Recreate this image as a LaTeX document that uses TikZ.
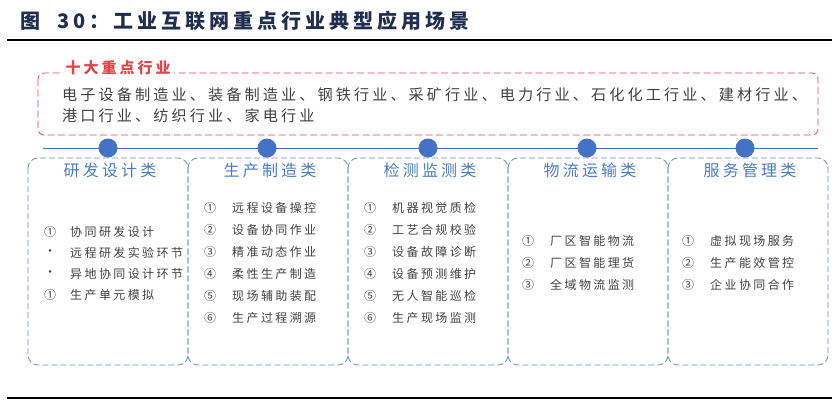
\documentclass[tikz,border=0pt]{standalone}
\usepackage{fontspec}
\setmainfont{Noto Sans CJK SC}
\newfontfamily\spaced[LetterSpace=20]{Noto Sans CJK SC}
\usepackage{xcolor}
\usetikzlibrary{positioning}
\definecolor{navy}{HTML}{1F2D4F}
\definecolor{hdblue}{HTML}{4A7CC4}
\definecolor{dotblue}{HTML}{4472C4}
\definecolor{redline}{HTML}{E0454A}
\tikzset{
    cat-box/.style = {draw=dotblue!80, dash pattern=on 6pt off 3pt, thick, rounded corners=10pt},
    cat-title/.style = {text=hdblue, font=\spaced\fontsize{16}{16}\selectfont, anchor=center},
    item/.style = {text=black!75, font=\spaced\fontsize{12}{12}\selectfont, anchor=west, inner sep=0pt},
    hub/.style = {circle, fill=dotblue, inner sep=0pt, minimum size=19pt},
}
\begin{document}
\begin{tikzpicture}[x=1pt,y=-1pt]
\useasboundingbox (0,0) rectangle (840,408);
% title and rules
\node[anchor=west, text=navy, font=\spaced\bfseries\fontsize{20}{20}\selectfont, inner sep=0pt] (title) at (20,21) {图\ \ 30：工业互联网重点行业典型应用场景};
\draw[line width=1.6pt] (7,40) -- (832,40);
\draw[line width=1.6pt] (7,398) -- (832,398);
% key industries
\draw[redline, dash pattern=on 7pt off 3.5pt, thick, rounded corners=6pt] (38,73) rectangle (818,135);
\node[fill=white, text=redline, font=\spaced\bfseries\fontsize{15}{15}\selectfont, anchor=west] (keytitle) at (62,68) {十大重点行业};
\node[anchor=north west, text=black!75, font=\spaced\fontsize{15.2}{21}\selectfont, align=left, inner sep=0pt] (keylist) at (62,87)
    {电子设备制造业、装备制造业、钢铁行业、采矿行业、电力行业、石化化工行业、建材行业、\\港口行业、纺织行业、家电行业};
% timeline
\draw[dotblue, thick] (43,148) -- (818,148);
\foreach \i/\x/\name in {0/108/研发设计类, 1/267/生产制造类, 2/428/检测监测类, 3/587/物流运输类, 4/745/服务管理类}{
    \pgfmathsetmacro{\bx}{28+160*\i}
    \draw[cat-box] (\bx,158) rectangle (\bx+160,365);
    \node[hub] (hub\i) at (\x,148) {};
    \node[cat-title] (cat\i) at (\bx+82,170) {\name};
}
% items
\foreach \n/\t [count=\k from 0] in {①/协同研发设计, •/远程研发实验环节, •/异地协同设计环节, ①/生产单元模拟}{
    \node[item] at (44,232+21*\k) {\n};
    \node[item] at (70,232+21*\k) {\t};
}
\foreach \n/\t [count=\k from 0] in {①/远程设备操控, ②/设备协同作业, ③/精准动态作业, ④/柔性生产制造, ⑤/现场辅助装配, ⑥/生产过程溯源}{
    \node[item] at (204,208+22*\k) {\n};
    \node[item] at (232,208+22*\k) {\t};
}
\foreach \n/\t [count=\k from 0] in {①/机器视觉质检, ②/工艺合规校验, ③/设备故障诊断, ④/设备预测维护, ⑤/无人智能巡检, ⑥/生产现场监测}{
    \node[item] at (364,208+22*\k) {\n};
    \node[item] at (392,208+22*\k) {\t};
}
\foreach \n/\t [count=\k from 0] in {①/厂区智能物流, ②/厂区智能理货, ③/全域物流监测}{
    \node[item] at (522,241+22*\k) {\n};
    \node[item] at (550,241+22*\k) {\t};
}
\foreach \n/\t [count=\k from 0] in {①/虚拟现场服务, ②/生产能效管控, ③/企业协同合作}{
    \node[item] at (682,241+22*\k) {\n};
    \node[item] at (710,241+22*\k) {\t};
}
\end{tikzpicture}
\end{document}
